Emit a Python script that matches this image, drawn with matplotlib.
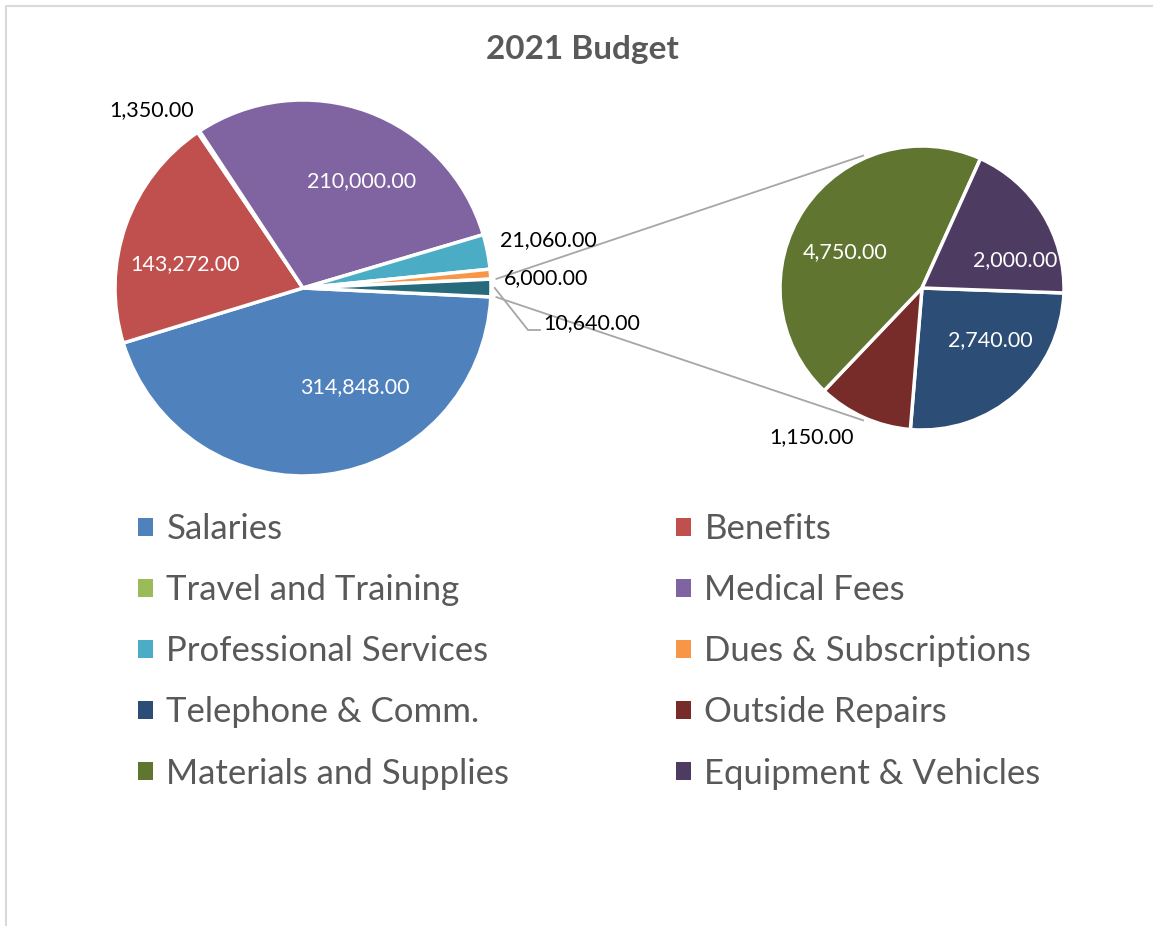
import matplotlib
matplotlib.use("Agg")
import matplotlib.pyplot as plt
from matplotlib.patches import Patch
import numpy as np

plt.rcParams['font.family'] = ['Lato', 'DejaVu Sans']

# 数据
main_names = ["Salaries", "Benefits", "Travel and Training", "Medical Fees",
              "Professional Services", "Dues & Subscriptions"]
main_values = [314848, 143272, 1350, 210000, 21060, 6000]
sub_names = ["Telephone & Comm.", "Outside Repairs", "Materials and Supplies",
             "Equipment & Vehicles"]
sub_values = [2740, 1150, 4750, 2000]

main_colors = ["#4F81BD", "#C0504D", "#9BBB59", "#8064A2", "#4BACC6", "#F79646"]
sub_colors = ["#2C4D75", "#772C2A", "#5F7530", "#4D3B62"]
other_color = "#276A7C"

W, H = 1153, 926
fig = plt.figure(figsize=(W / 100, H / 100), dpi=100)
ax = fig.add_axes([0, 0, 1, 1])

other_value = sum(sub_values)
values = main_values + [other_value]
colors = main_colors + [other_color]
other_angle = other_value / sum(values) * 360

c1, r1 = (303, H - 288), 188
c2, r2 = (922, H - 288), 142

wp = dict(edgecolor="white", linewidth=2.5)
w1, _ = ax.pie(values, colors=colors, startangle=-other_angle / 2, counterclock=False,
               center=c1, radius=r1, wedgeprops=wp)
w2, _ = ax.pie(sub_values, colors=sub_colors, startangle=-2, counterclock=False,
               center=c2, radius=r2, wedgeprops=wp)


def fmt(v):
    return f"{v:,.2f}"


# 主饼图标签: (dx, dy) 相对圆心
lab_fs = 15.5
main_lab_off = [(52, -99, "white"), (-118, 24, "white"), (-151, 178, "black"),
                (59, 107, "white"), (245, 48, "black"), (243, 10, "black"),
                (289, -35, "black")]
for v, (dx, dy, col) in zip(values, main_lab_off):
    ax.text(c1[0] + dx, c1[1] + dy, fmt(v), color=col, fontsize=lab_fs,
            ha="center", va="center")

sub_lab_off = [(68, -52, "white"), (-110, -149, "black"), (-77, 36, "white"),
               (93, 28, "white")]
for v, (dx, dy, col) in zip(sub_values, sub_lab_off):
    ax.text(c2[0] + dx, c2[1] + dy, fmt(v), color=col, fontsize=lab_fs,
            ha="center", va="center")

# 连接线
a = np.radians(other_angle / 2)
for s in (1, -1):
    p0 = (c1[0] + r1 * 1.03 * np.cos(a), c1[1] + s * r1 * 1.03 * np.sin(a))
    b = np.radians(114)
    p1 = (c2[0] + r2 * 1.02 * np.cos(b), c2[1] + s * r2 * 1.02 * np.sin(b))
    ax.plot([p0[0], p1[0]], [p0[1], p1[1]], color="#A6A6A6", lw=1.3)

# 10,640 引线
ax.plot([c1[0] + r1 * 1.02, c1[0] + 225, c1[0] + 237],
        [c1[1], c1[1] - 42, c1[1] - 42], color="#A6A6A6", lw=1.3)

ax.text(582, H - 50, "2021 Budget", fontsize=24, fontweight="bold",
        color="#595959", ha="center", va="center")

# 图表边框
ax.plot([6, 6, W], [0, H - 6, H - 6], color="#D9D9D9", lw=1.5)

names = main_names + sub_names
all_colors = main_colors + sub_colors
handles = [Patch(facecolor=c, label=n) for n, c in zip(names, all_colors)]
leg_kw = dict(frameon=False, fontsize=25, labelcolor="#595959", handlelength=0.42,
              handleheight=0.42, handletextpad=0.4, labelspacing=0.84,
              loc="upper left", borderaxespad=0, borderpad=0)
leg1 = ax.legend(handles=handles[0::2], bbox_to_anchor=(138 / W, 1 - 513 / H), **leg_kw)
ax.add_artist(leg1)
ax.legend(handles=handles[1::2], bbox_to_anchor=(676 / W, 1 - 513 / H), **leg_kw)

ax.set_xlim(0, W)
ax.set_ylim(0, H)
ax.set_aspect("equal")
ax.axis("off")

fig.savefig("out.png", dpi=100)
